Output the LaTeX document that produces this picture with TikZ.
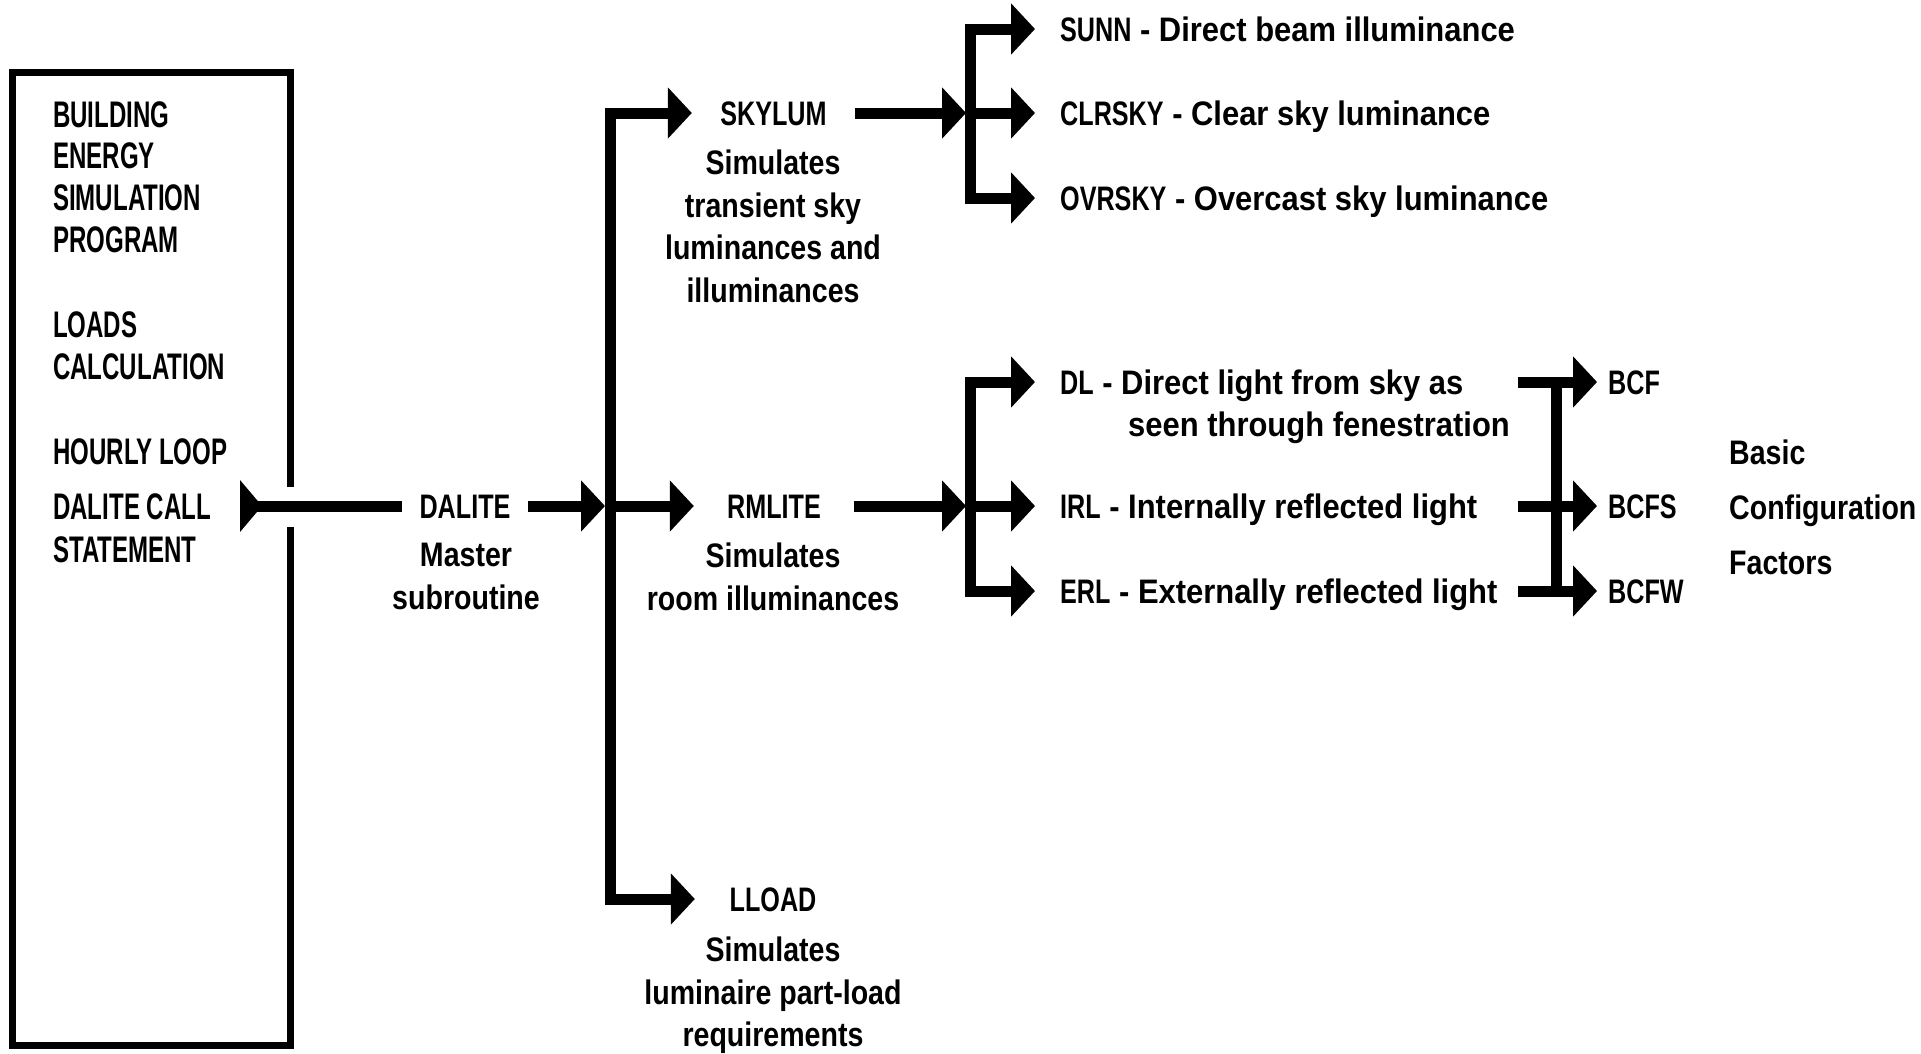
\documentclass[tikz,border=0pt]{standalone}
\usepackage{fontspec}
\usetikzlibrary{arrows.meta}
\newfontfamily\mainfam{Liberation Sans}[FakeStretch=0.84]
\newfontfamily\rowfam{Liberation Sans}[FakeStretch=0.91]
\newfontfamily\capfam{Liberation Sans}[FakeStretch=0.74]
\newfontfamily\boxfam{Liberation Sans}[FakeStretch=0.65]
\newcommand\cp[1]{{\capfam\bfseries #1}}
\begin{document}
\begin{tikzpicture}[x=1pt,y=-1pt,
  >={Triangle[length=24pt,width=50pt]},
  conn/.style={line width=11pt, line join=miter},
  boxtxt/.style={anchor=base west, inner sep=0pt, font=\boxfam\bfseries\fontsize{37}{42}\selectfont},
  title/.style={inner sep=0pt, text height=24pt, text depth=0pt, font=\capfam\bfseries\fontsize{34}{42}\selectfont},
  desc/.style={inner sep=0pt, align=center, anchor=north, font=\mainfam\bfseries\fontsize{34}{42.5}\selectfont},
  row/.style={anchor=west, inner xsep=25pt, inner ysep=0pt, text height=24pt, text depth=0pt, font=\rowfam\bfseries\fontsize{34}{42}\selectfont}
]
\useasboundingbox (0,0) rectangle (1921,1053);

% outer program frame
\draw[line width=7pt, line join=miter] (290,487) -- (290,72) -- (12,72) -- (12,1045) -- (290,1045) -- (290,527);

\node[boxtxt] (b1) at (53,127) {BUILDING};
\node[boxtxt] (b2) at (53,168) {ENERGY};
\node[boxtxt] (b3) at (53,210) {SIMULATION};
\node[boxtxt] (b4) at (53,252) {PROGRAM};
\node[boxtxt] (b5) at (53,337) {LOADS};
\node[boxtxt] (b6) at (53,379) {CALCULATION};
\node[boxtxt] (b7) at (53,464) {HOURLY LOOP};
\node[boxtxt] (b8) at (53,519) {DALITE CALL};
\node[boxtxt] (b9) at (53,562) {STATEMENT};

% DALITE
\coordinate (call) at (240,506);
\node[title, minimum width=126pt] (dalite) at (465,506) {DALITE};
\node[desc] (daliteD) at (466,543) {Master\\subroutine};
\draw[conn] (dalite.west) -- (call);
\fill (call) ++(0,-26) -- ++(0,52) -- ++(22,-26) -- cycle;

% first level
\coordinate (j1t) at (610,113);
\coordinate (j1m) at (610,506);
\coordinate (j1b) at (610,899);
\node[title, minimum width=163pt] (skylum) at (773.5,113) {SKYLUM};
\node[desc] (skylumD) at (773,150) {Simulates\\transient sky\\luminances and\\illuminances};
\node[title, minimum width=160pt] (rmlite) at (774,506) {RMLITE};
\node[desc] (rmliteD) at (773,543) {Simulates\\room illuminances};
\node[title, minimum width=156pt] (lload) at (773,899) {LLOAD};
\node[desc] (lloadD) at (773,937) {Simulates\\luminaire part-load\\requirements};

\draw[conn,->,shorten >=5pt] (dalite.east) -- (j1m);
\draw[conn,<->] (skylum.west) -- (j1t) -- (j1b) -- (lload.west);
\draw[conn,->] (j1m) -- (rmlite.west);

% SKYLUM branch
\coordinate (j2t) at (970,29);
\coordinate (j2m) at (970,113);
\coordinate (j2b) at (970,198);
\node[row] (sunn) at (1035,29) {\cp{SUNN} - Direct beam illuminance};
\node[row] (clrsky) at (1035,113) {\cp{CLRSKY} - Clear sky luminance};
\node[row] (ovrsky) at (1035,198) {\cp{OVRSKY} - Overcast sky luminance};
\draw[conn,->,shorten >=4pt] (skylum.east) -- (j2m);
\draw[conn,<->] (sunn.west) -- (j2t) -- (j2b) -- (ovrsky.west);
\draw[conn,->] (j2m) -- (clrsky.west);

% RMLITE branch
\coordinate (j3t) at (970,382);
\coordinate (j3m) at (970,506);
\coordinate (j3b) at (970,591);
\node[row] (dl) at (1035,382) {\cp{DL} - Direct light from sky as};
\node[row, anchor=west, inner xsep=0pt] (dl2) at (1128,424) {seen through fenestration};
\node[row] (irl) at (1035,506) {\cp{IRL} - Internally reflected light};
\node[row] (erl) at (1035,591) {\cp{ERL} - Externally reflected light};
\draw[conn,->,shorten >=4pt] (rmlite.east) -- (j3m);
\draw[conn,<->] (dl.west) -- (j3t) -- (j3b) -- (erl.west);
\draw[conn,->] (j3m) -- (irl.west);

% configuration factors
\coordinate (dlR) at (1518,382);
\coordinate (irlR) at (1518,506);
\coordinate (erlR) at (1518,591);
\coordinate (j4t) at (1556,382);
\coordinate (j4b) at (1556,591);
\node[row, inner xsep=11pt] (bcf) at (1597,382) {\cp{BCF}};
\node[row, inner xsep=11pt] (bcfs) at (1597,506) {\cp{BCFS}};
\node[row, inner xsep=11pt] (bcfw) at (1597,591) {\cp{BCFW}};
\draw[conn,->] (dlR) -- (bcf.west);
\draw[conn,->] (irlR) -- (bcfs.west);
\draw[conn,->] (erlR) -- (bcfw.west);
\draw[conn] (j4t) -- (j4b);
\node[anchor=north west, inner sep=0pt, align=left, font=\mainfam\bfseries\fontsize{34}{55}\selectfont] (bcfnote) at (1729,440) {Basic\\Configuration\\Factors};
\end{tikzpicture}
\end{document}
